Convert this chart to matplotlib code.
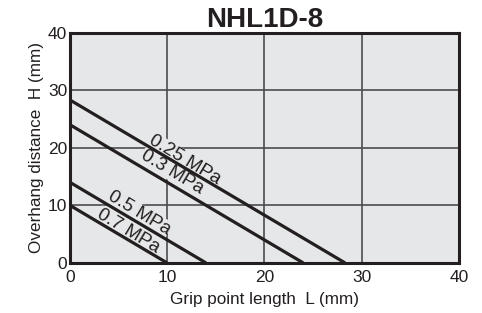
import matplotlib
matplotlib.use("Agg")
import matplotlib.pyplot as plt

plt.rcParams['font.family'] = ['Liberation Sans', 'DejaVu Sans']

# pressure curves: straight lines from (0, h0) to (l0, 0)
pressures = ["0.25 MPa", "0.3 MPa", "0.5 MPa", "0.7 MPa"]
h_start = [28.3, 24.0, 14.0, 10.0]
l_end = [28.3, 24.0, 14.0, 10.0]
label_x = [11.8, 10.5, 7.1, 6.0]
label_y = [17.9, 15.8, 8.7, 5.5]

xticks = [0, 10, 20, 30, 40]
yticks = [0, 10, 20, 30, 40]

bg = "#e6e7e8"

fig = plt.figure(figsize=(4.82, 3.13), dpi=100)
ax = fig.add_axes([0.145, 0.160, 0.807, 0.736])
ax.set_facecolor(bg)

ax.set_xlim(0, 40)
ax.set_ylim(0, 40)
ax.set_xticks(xticks)
ax.set_yticks(yticks)
ax.tick_params(length=0, labelsize=12.5, colors="#231f20")
ax.tick_params(axis="x", pad=5)
ax.tick_params(axis="y", pad=2)
ax.grid(True, color="#4d4d4f", linewidth=1.2)
ax.set_axisbelow(True)
for s in ax.spines.values():
    s.set_linewidth(2.2)
    s.set_color("#231f20")

for name, h0, l0, lx, ly in zip(pressures, h_start, l_end, label_x, label_y):
    ax.plot([0, l0], [h0, 0], color="#231f20", linewidth=2.3, solid_capstyle="butt",
            clip_on=False, zorder=3)
    ax.text(lx, ly, name, rotation=-31, ha="center", va="center", fontsize=13.5,
            color="#231f20", rotation_mode="anchor", zorder=2,
            bbox=dict(facecolor=bg, edgecolor="none", pad=0.3))

ax.set_xlabel("Grip point length  L (mm)", fontsize=12.3, color="#231f20", labelpad=5)
ax.set_ylabel("Overhang distance  H (mm)", fontsize=12.3, color="#231f20", labelpad=3)
ax.set_title("NHL1D-8", fontsize=20, fontweight="bold", color="#231f20", pad=1)

fig.savefig("out.png", dpi=100)
